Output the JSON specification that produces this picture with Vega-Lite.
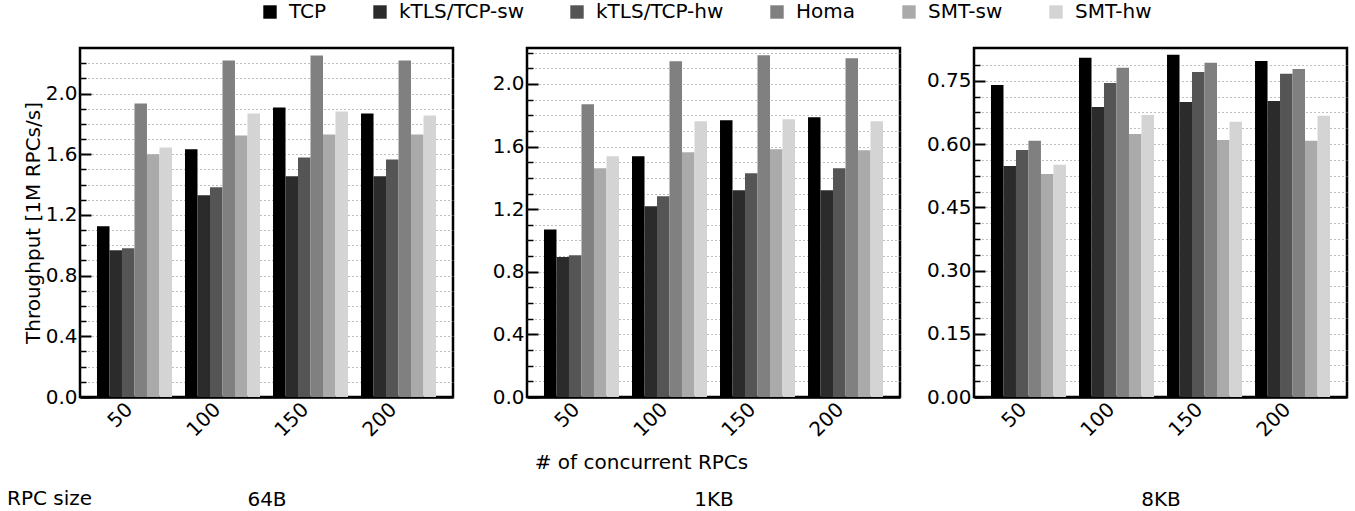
{
  "$schema": "https://vega.github.io/schema/vega-lite/v6.json",
  "autosize": {"type": "pad"},
  "padding": {"left": 5, "top": 2, "right": 6, "bottom": 2},
  "datasets": {
    "d": [
      {"size": "64B", "n": "50", "series": "TCP", "value": 1.125},
      {"size": "64B", "n": "50", "series": "kTLS/TCP-sw", "value": 0.967},
      {"size": "64B", "n": "50", "series": "kTLS/TCP-hw", "value": 0.980},
      {"size": "64B", "n": "50", "series": "Homa", "value": 1.934},
      {"size": "64B", "n": "50", "series": "SMT-sw", "value": 1.599},
      {"size": "64B", "n": "50", "series": "SMT-hw", "value": 1.645},
      {"size": "64B", "n": "100", "series": "TCP", "value": 1.632},
      {"size": "64B", "n": "100", "series": "kTLS/TCP-sw", "value": 1.329},
      {"size": "64B", "n": "100", "series": "kTLS/TCP-hw", "value": 1.382},
      {"size": "64B", "n": "100", "series": "Homa", "value": 2.217},
      {"size": "64B", "n": "100", "series": "SMT-sw", "value": 1.724},
      {"size": "64B", "n": "100", "series": "SMT-hw", "value": 1.868},
      {"size": "64B", "n": "150", "series": "TCP", "value": 1.908},
      {"size": "64B", "n": "150", "series": "kTLS/TCP-sw", "value": 1.454},
      {"size": "64B", "n": "150", "series": "kTLS/TCP-hw", "value": 1.579},
      {"size": "64B", "n": "150", "series": "Homa", "value": 2.250},
      {"size": "64B", "n": "150", "series": "SMT-sw", "value": 1.730},
      {"size": "64B", "n": "150", "series": "SMT-hw", "value": 1.882},
      {"size": "64B", "n": "200", "series": "TCP", "value": 1.868},
      {"size": "64B", "n": "200", "series": "kTLS/TCP-sw", "value": 1.454},
      {"size": "64B", "n": "200", "series": "kTLS/TCP-hw", "value": 1.566},
      {"size": "64B", "n": "200", "series": "Homa", "value": 2.217},
      {"size": "64B", "n": "200", "series": "SMT-sw", "value": 1.730},
      {"size": "64B", "n": "200", "series": "SMT-hw", "value": 1.855},
      {"size": "1KB", "n": "50", "series": "TCP", "value": 1.070},
      {"size": "1KB", "n": "50", "series": "kTLS/TCP-sw", "value": 0.894},
      {"size": "1KB", "n": "50", "series": "kTLS/TCP-hw", "value": 0.906},
      {"size": "1KB", "n": "50", "series": "Homa", "value": 1.870},
      {"size": "1KB", "n": "50", "series": "SMT-sw", "value": 1.462},
      {"size": "1KB", "n": "50", "series": "SMT-hw", "value": 1.538},
      {"size": "1KB", "n": "100", "series": "TCP", "value": 1.538},
      {"size": "1KB", "n": "100", "series": "kTLS/TCP-sw", "value": 1.219},
      {"size": "1KB", "n": "100", "series": "kTLS/TCP-hw", "value": 1.283},
      {"size": "1KB", "n": "100", "series": "Homa", "value": 2.145},
      {"size": "1KB", "n": "100", "series": "SMT-sw", "value": 1.564},
      {"size": "1KB", "n": "100", "series": "SMT-hw", "value": 1.762},
      {"size": "1KB", "n": "150", "series": "TCP", "value": 1.768},
      {"size": "1KB", "n": "150", "series": "kTLS/TCP-sw", "value": 1.321},
      {"size": "1KB", "n": "150", "series": "kTLS/TCP-hw", "value": 1.430},
      {"size": "1KB", "n": "150", "series": "Homa", "value": 2.183},
      {"size": "1KB", "n": "150", "series": "SMT-sw", "value": 1.583},
      {"size": "1KB", "n": "150", "series": "SMT-hw", "value": 1.774},
      {"size": "1KB", "n": "200", "series": "TCP", "value": 1.787},
      {"size": "1KB", "n": "200", "series": "kTLS/TCP-sw", "value": 1.321},
      {"size": "1KB", "n": "200", "series": "kTLS/TCP-hw", "value": 1.462},
      {"size": "1KB", "n": "200", "series": "Homa", "value": 2.164},
      {"size": "1KB", "n": "200", "series": "SMT-sw", "value": 1.577},
      {"size": "1KB", "n": "200", "series": "SMT-hw", "value": 1.762},
      {"size": "8KB", "n": "50", "series": "TCP", "value": 0.7405},
      {"size": "8KB", "n": "50", "series": "kTLS/TCP-sw", "value": 0.548},
      {"size": "8KB", "n": "50", "series": "kTLS/TCP-hw", "value": 0.586},
      {"size": "8KB", "n": "50", "series": "Homa", "value": 0.608},
      {"size": "8KB", "n": "50", "series": "SMT-sw", "value": 0.529},
      {"size": "8KB", "n": "50", "series": "SMT-hw", "value": 0.551},
      {"size": "8KB", "n": "100", "series": "TCP", "value": 0.805},
      {"size": "8KB", "n": "100", "series": "kTLS/TCP-sw", "value": 0.688},
      {"size": "8KB", "n": "100", "series": "kTLS/TCP-hw", "value": 0.745},
      {"size": "8KB", "n": "100", "series": "Homa", "value": 0.781},
      {"size": "8KB", "n": "100", "series": "SMT-sw", "value": 0.624},
      {"size": "8KB", "n": "100", "series": "SMT-hw", "value": 0.669},
      {"size": "8KB", "n": "150", "series": "TCP", "value": 0.812},
      {"size": "8KB", "n": "150", "series": "kTLS/TCP-sw", "value": 0.700},
      {"size": "8KB", "n": "150", "series": "kTLS/TCP-hw", "value": 0.771},
      {"size": "8KB", "n": "150", "series": "Homa", "value": 0.793},
      {"size": "8KB", "n": "150", "series": "SMT-sw", "value": 0.610},
      {"size": "8KB", "n": "150", "series": "SMT-hw", "value": 0.653},
      {"size": "8KB", "n": "200", "series": "TCP", "value": 0.797},
      {"size": "8KB", "n": "200", "series": "kTLS/TCP-sw", "value": 0.7025},
      {"size": "8KB", "n": "200", "series": "kTLS/TCP-hw", "value": 0.767},
      {"size": "8KB", "n": "200", "series": "Homa", "value": 0.778},
      {"size": "8KB", "n": "200", "series": "SMT-sw", "value": 0.608},
      {"size": "8KB", "n": "200", "series": "SMT-hw", "value": 0.667}
    ]
  },
  "config": {
    "font": "DejaVu Sans",
    "view": {"stroke": "black", "strokeWidth": 2.5},
    "axis": {
      "labelFont": "DejaVu Sans", "labelFontSize": 20, "labelColor": "black",
      "titleFont": "DejaVu Sans", "titleFontSize": 20, "titleFontWeight": "normal", "titleColor": "black"
    },
    "axisX": {"labelAngle": -45, "labelAlign": "right", "labelBaseline": "top", "labelOffset": -12, "labelPadding": 2, "ticks": false, "domain": true, "domainColor": "black", "domainWidth": 2.5, "zindex": 1, "titleY": 108, "titleBaseline": "alphabetic"},
    "axisY": {"tickColor": "black", "domain": false, "labelPadding": 14, "grid": true, "gridColor": "#808080", "gridDash": [1, 3], "gridWidth": 1.2},
    "title": {"font": "DejaVu Sans", "fontSize": 20, "fontWeight": "normal", "color": "black"},
    "legend": {"labelFont": "DejaVu Sans", "labelFontSize": 20, "labelColor": "black"}
  },
  "spacing": 74,
  "bounds": "flush",
  "resolve": {"scale": {"color": "shared", "y": "independent"}, "legend": {"color": "shared"}},
  "hconcat": [
    {
      "width": 373, "height": 349,
      "data": {"name": "d"},
      "transform": [{"filter": "datum.size === '64B'"}],
      "title": {"text": "RPC size", "orient": "bottom", "anchor": "start", "frame": "group", "dx": -73, "offset": -4, "baseline": "alphabetic"},
      "mark": {"type": "bar"},
      "encoding": {
        "x": {"field": "n", "type": "nominal", "sort": ["50", "100", "150", "200"],
          "scale": {"paddingInner": 0.148, "paddingOuter": 0.193},
          "axis": {"title": "64B"}},
        "xOffset": {"field": "series", "type": "nominal", "sort": ["TCP", "kTLS/TCP-sw", "kTLS/TCP-hw", "Homa", "SMT-sw", "SMT-hw"], "scale": {"paddingInner": 0, "paddingOuter": 0}},
        "y": {"field": "value", "type": "quantitative", "scale": {"domain": [0, 2.3], "nice": false},
          "axis": {"title": "Throughput [1M RPCs/s]", "titlePadding": 2,
            "values": [0, 0.1, 0.2, 0.3, 0.4, 0.5, 0.6, 0.7, 0.8, 0.9, 1.0, 1.1, 1.2, 1.3, 1.4, 1.5, 1.6, 1.7, 1.8, 1.9, 2.0, 2.1, 2.2],
            "labelExpr": "abs(datum.value/0.4 - round(datum.value/0.4)) < 0.001 ? format(datum.value, '.1f') : ''",
            "tickSize": {"condition": {"test": "abs(datum.value/0.4 - round(datum.value/0.4)) < 0.001", "value": -11}, "value": -6},
            "tickWidth": {"condition": {"test": "abs(datum.value/0.4 - round(datum.value/0.4)) < 0.001", "value": 2}, "value": 1.5}}},
        "color": {"field": "series", "type": "nominal",
          "scale": {"domain": ["TCP", "kTLS/TCP-sw", "kTLS/TCP-hw", "Homa", "SMT-sw", "SMT-hw"], "range": ["#000000", "#2b2b2b", "#555555", "#808080", "#aaaaaa", "#d4d4d4"]},
          "legend": {"orient": "none", "legendX": 180, "legendY": -46, "direction": "horizontal", "title": null, "symbolType": "square", "symbolSize": 180, "symbolStrokeWidth": 0, "symbolOpacity": 1, "labelOffset": 9, "columnPadding": 43, "padding": 0}}
      }
    },
    {
      "width": 373, "height": 349,
      "data": {"name": "d"},
      "transform": [{"filter": "datum.size === '1KB'"}],
      "title": {"text": "# of concurrent RPCs", "orient": "bottom", "anchor": "middle", "frame": "group", "dx": -72, "offset": -40, "baseline": "alphabetic"},
      "mark": {"type": "bar"},
      "encoding": {
        "x": {"field": "n", "type": "nominal", "sort": ["50", "100", "150", "200"],
          "scale": {"paddingInner": 0.148, "paddingOuter": 0.193},
          "axis": {"title": "1KB"}},
        "xOffset": {"field": "series", "type": "nominal", "sort": ["TCP", "kTLS/TCP-sw", "kTLS/TCP-hw", "Homa", "SMT-sw", "SMT-hw"], "scale": {"paddingInner": 0, "paddingOuter": 0}},
        "y": {"field": "value", "type": "quantitative", "scale": {"domain": [0, 2.23], "nice": false},
          "axis": {"title": null,
            "values": [0, 0.1, 0.2, 0.3, 0.4, 0.5, 0.6, 0.7, 0.8, 0.9, 1.0, 1.1, 1.2, 1.3, 1.4, 1.5, 1.6, 1.7, 1.8, 1.9, 2.0, 2.1, 2.2],
            "labelExpr": "abs(datum.value/0.4 - round(datum.value/0.4)) < 0.001 ? format(datum.value, '.1f') : ''",
            "tickSize": {"condition": {"test": "abs(datum.value/0.4 - round(datum.value/0.4)) < 0.001", "value": -11}, "value": -6},
            "tickWidth": {"condition": {"test": "abs(datum.value/0.4 - round(datum.value/0.4)) < 0.001", "value": 2}, "value": 1.5}}},
        "color": {"field": "series", "type": "nominal"}
      }
    },
    {
      "width": 373, "height": 349,
      "data": {"name": "d"},
      "transform": [{"filter": "datum.size === '8KB'"}],
      "mark": {"type": "bar"},
      "encoding": {
        "x": {"field": "n", "type": "nominal", "sort": ["50", "100", "150", "200"],
          "scale": {"paddingInner": 0.148, "paddingOuter": 0.193},
          "axis": {"title": "8KB"}},
        "xOffset": {"field": "series", "type": "nominal", "sort": ["TCP", "kTLS/TCP-sw", "kTLS/TCP-hw", "Homa", "SMT-sw", "SMT-hw"], "scale": {"paddingInner": 0, "paddingOuter": 0}},
        "y": {"field": "value", "type": "quantitative", "scale": {"domain": [0, 0.828], "nice": false},
          "axis": {"title": null,
            "values": [0, 0.0375, 0.075, 0.1125, 0.15, 0.1875, 0.225, 0.2625, 0.3, 0.3375, 0.375, 0.4125, 0.45, 0.4875, 0.525, 0.5625, 0.6, 0.6375, 0.675, 0.7125, 0.75, 0.7875],
            "labelExpr": "abs(datum.value/0.15 - round(datum.value/0.15)) < 0.001 ? format(datum.value, '.2f') : ''",
            "tickSize": {"condition": {"test": "abs(datum.value/0.15 - round(datum.value/0.15)) < 0.001", "value": -11}, "value": -6},
            "tickWidth": {"condition": {"test": "abs(datum.value/0.15 - round(datum.value/0.15)) < 0.001", "value": 2}, "value": 1.5}}},
        "color": {"field": "series", "type": "nominal"}
      }
    }
  ]
}
